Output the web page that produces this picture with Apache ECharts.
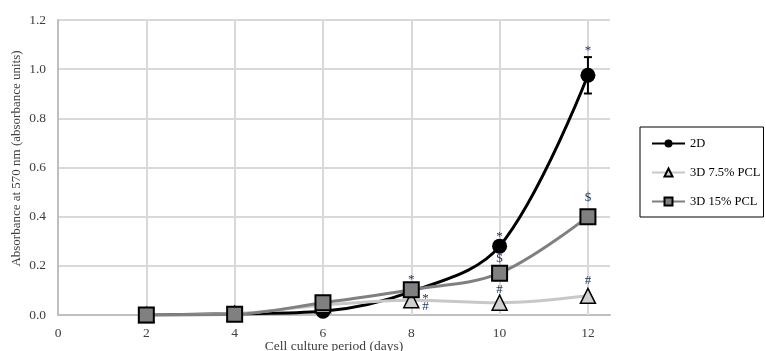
<!DOCTYPE html>
<html><head><meta charset="utf-8">
<script src="https://cdn.jsdelivr.net/npm/echarts@6/dist/echarts.min.js"></script>
<style>html,body{margin:0;padding:0;background:#fff}#c{width:766px;height:351px}</style>
</head><body><div id="c"></div>
<script>
const days = [2, 4, 6, 8, 10, 12];
const s2D = [0, 0.005, 0.015, 0.095, 0.28, 0.975];
const s75 = [0, 0.005, 0.04, 0.06, 0.05, 0.078];
const s15 = [0, 0.003, 0.05, 0.103, 0.17, 0.40];
const err2D = [0, 0, 0, 0, 0, 0.074];
const xTicks = [2, 4, 6, 8, 10, 12];
const yTickLabels = ['0.0', '0.2', '0.4', '0.6', '0.8', '1.0', '1.2'];
const annX = [12, 12, 12, 10, 10, 10, 8, 8.32, 8.32];
const annY = [1.074, 0.476, 0.138, 0.317, 0.228, 0.102, 0.146, 0.065, 0.033];
const annText = ['*', '$', '#', '*', '$', '#', '*', '*', '#'];

const FONT = '"Liberation Serif", "DejaVu Serif", serif';
const zip = (xs, ys) => xs.map((x, i) => [x, ys[i]]);

const chart = echarts.init(document.getElementById('c'));
chart.setOption({
  animation: false,
  backgroundColor: '#fff',
  grid: { left: 58, right: 156, top: 20, bottom: 36, containLabel: false, outerBoundsMode: 'none' },
  legend: {
    data: ['2D', '3D 7.5% PCL', '3D 15% PCL'],
    orient: 'vertical', left: 640, top: 127,
    padding: [10, 3, 9, 11], itemGap: 16, itemWidth: 33, itemHeight: 10,
    borderColor: '#000', borderWidth: 1, borderRadius: 0,
    textStyle: { fontFamily: FONT, fontSize: 12.5, color: '#000' }
  },
  xAxis: {
    type: 'value', min: 0, max: 12.5, interval: 2,
    name: 'Cell culture period (days)', nameLocation: 'middle', nameGap: 24, nameMoveOverlap: false,
    nameTextStyle: { fontFamily: FONT, fontSize: 13.5, color: '#404040' },
    axisLine: { show: true, lineStyle: { color: '#bfbfbf', width: 2 } },
    axisTick: { show: false },
    splitLine: { show: false },
    axisLabel: { fontFamily: FONT, fontSize: 13.5, color: '#404040', margin: 11, showMaxLabel: false,
      formatter: v => (v % 2 === 0 ? String(v) : '') }
  },
  yAxis: {
    type: 'value', min: 0, max: 1.2, interval: 0.2,
    name: 'Absorbance at 570 nm (absorbance units)', nameLocation: 'middle', nameGap: 35, nameMoveOverlap: false,
    nameTextStyle: { fontFamily: FONT, fontSize: 13, color: '#404040', padding: [0, 0, 0, 18] },
    axisLine: { show: true, lineStyle: { color: '#bfbfbf', width: 2 } },
    axisTick: { show: false },
    splitLine: { show: true, lineStyle: { color: '#d9d9d9', width: 2 } },
    axisLabel: { fontFamily: FONT, fontSize: 13.5, color: '#404040', margin: 12,
      formatter: (v) => yTickLabels[Math.round(v / 0.2)] }
  },
  series: [
    {
      type: 'line', name: 'vgrid', z: 1, data: [], silent: true,
      markLine: {
        z: 1, silent: true, symbol: 'none', label: { show: false }, animation: false,
        lineStyle: { color: '#d9d9d9', width: 2, type: 'solid' },
        data: xTicks.map(t => ({ xAxis: t }))
      }
    },
    {
      type: 'line', name: '2D', data: zip(days, s2D), smooth: 0.35, z: 2,
      symbol: 'circle', symbolSize: 15,
      itemStyle: { color: '#000' },
      lineStyle: { color: '#000', width: 3 }
    },
    {
      type: 'custom', name: 'err', z: 3, encode: { x: 0, y: 1 }, silent: true,
      data: days.map((d, i) => [d, s2D[i], err2D[i]]),
      renderItem: (params, api) => {
        const x = api.value(0), y = api.value(1), e = api.value(2);
        if (!e) return null;
        const t = api.coord([x, y + e]), b = api.coord([x, y - e]);
        const hw = 4, st = { stroke: '#000', lineWidth: 2, fill: null };
        return { type: 'group', children: [
          { type: 'line', shape: { x1: t[0], y1: t[1], x2: b[0], y2: b[1] }, style: st },
          { type: 'line', shape: { x1: t[0] - hw, y1: t[1], x2: t[0] + hw, y2: t[1] }, style: st },
          { type: 'line', shape: { x1: b[0] - hw, y1: b[1], x2: b[0] + hw, y2: b[1] }, style: st }
        ] };
      }
    },
    {
      type: 'line', name: '3D 7.5% PCL', data: zip(days, s75), smooth: 0.35, z: 4,
      symbol: 'triangle', symbolSize: 15,
      itemStyle: { color: '#d0d0d0', borderColor: '#000', borderWidth: 1.5 },
      lineStyle: { color: '#c8c8c8', width: 3 }
    },
    {
      type: 'line', name: '3D 15% PCL', data: zip(days, s15), smooth: 0.35, z: 5,
      symbol: 'rect', symbolSize: 15,
      itemStyle: { color: '#808080', borderColor: '#000', borderWidth: 2 },
      lineStyle: { color: '#808080', width: 3 }
    },
    {
      type: 'custom', name: 'ann', z: 6, encode: { x: 0, y: 1 }, silent: true,
      data: annX.map((x, i) => [x, annY[i], i]),
      renderItem: (params, api) => {
        const p = api.coord([api.value(0), api.value(1)]);
        const i = api.value(2);
        return { type: 'text', x: p[0], y: p[1], style: {
          text: annText[i], fill: '#203864', fontSize: 13, fontFamily: FONT,
          align: 'center', verticalAlign: 'middle', textAlign: 'center', textVerticalAlign: 'middle' } };
      }
    }
  ]
});
</script></body></html>
